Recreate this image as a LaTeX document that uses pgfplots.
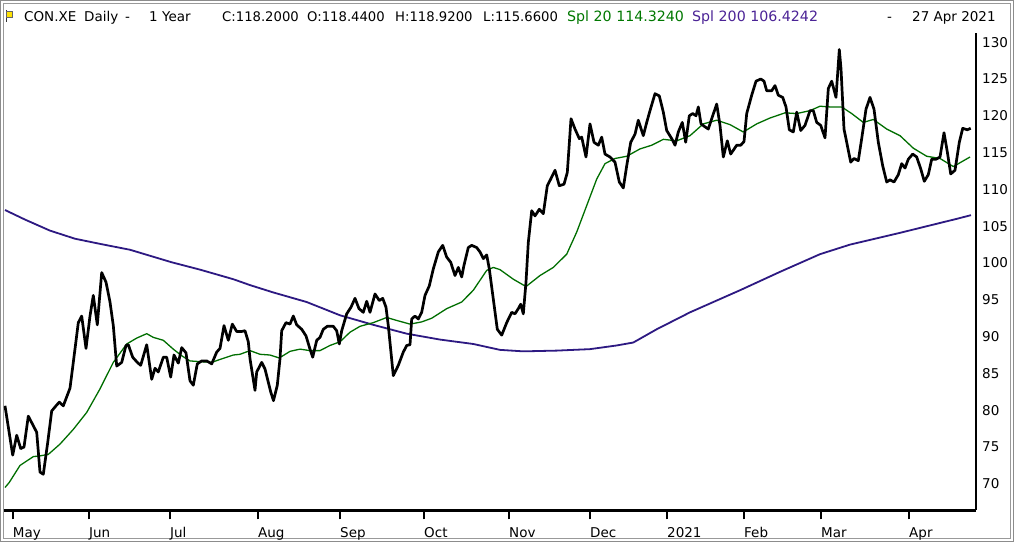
\documentclass[border=0pt]{standalone}
\usepackage{pgfplots}
\pgfplotsset{compat=1.18}
\usepackage{fontspec}
\setmainfont{DejaVu Sans}
\definecolor{smagreen}{RGB}{0,110,0}
\definecolor{smapurple}{RGB}{45,25,130}
\definecolor{hdrgreen}{RGB}{0,120,0}
\definecolor{hdrpurple}{RGB}{75,35,150}
\newcommand{\hf}{\fontsize{13.5}{16}\selectfont}
\newcommand{\hs}{\fontsize{13.2}{16}\selectfont}
\newcommand{\hl}{\fontsize{14.2}{16}\selectfont}

\pgfplotstableread{
x y
5 80.6
12.7 73.9
16.7 76.6
20.7 74.8
24 75.0
28.3 79.2
33.3 77.9
36.7 77.0
40 71.6
43.3 71.3
47.7 75.6
51.7 79.9
56 80.6
59.3 81.1
63.3 80.6
70 83.0
73.3 86.5
78.3 91.9
81.7 92.8
86 88.4
90 92.8
93.3 95.6
97.3 91.6
101.7 98.7
106 97.4
110 94.7
113.3 91.5
116.7 86.0
121.7 86.5
126 88.8
128.3 88.9
132.7 87.2
137.3 86.5
140.7 86.1
146.7 88.9
151.7 84.2
155 85.7
158.3 85.2
163.3 87.2
166.7 87.2
170.7 84.5
174 87.5
178.3 86.4
181.7 88.5
186 87.8
190 84.0
193.3 83.4
197.3 86.3
201.7 86.7
206.7 86.7
211.7 86.3
216.7 87.9
220 88.4
224 91.5
228.3 89.5
232.3 91.7
236.7 90.7
241.7 90.7
245 90.8
248.3 89.3
250 87.0
255 82.7
256.7 85.2
261.7 86.5
265 85.6
270.7 82.5
273.5 81.3
277.3 83.4
280 87.0
281.7 90.8
286 91.9
290 91.7
293.3 92.8
296.7 91.6
301.7 91.0
306 90.1
310 88.3
312.7 87.2
316.7 89.5
320 89.9
323.3 91.0
327.3 91.4
333.3 91.4
336.7 90.8
339.3 89.0
341.7 90.8
346.7 93.1
351 94.0
355 95.2
359 93.8
363.3 93.3
366.7 94.8
370 93.3
375 95.8
379.3 94.9
382.7 95.2
386 94.0
388.3 91.5
393.3 84.7
398.3 86.1
403.3 87.9
406.7 88.8
410 88.9
411.7 92.4
415 92.8
418.3 92.4
421.7 93.3
425 95.6
429.3 96.9
433.3 99.2
438.3 101.5
442.7 102.4
446.7 100.8
450.7 100.1
455 98.3
458.3 99.4
461.7 98.1
464 99.7
468.3 102.1
471.7 102.4
476.7 102.1
480 101.5
483.3 100.6
486.7 101.1
489.3 99.2
493.3 95.1
497.3 91.0
501.7 90.2
506.7 91.9
511.7 93.3
515 93.1
518.3 93.8
520.7 94.4
523.3 93.1
526 97.4
528.3 102.8
531.7 107.1
535 106.4
539.3 107.3
543.3 106.7
547.3 110.5
550.7 111.4
555 112.6
559.3 110.5
564 110.7
567.3 112.3
571 119.6
575 118.2
579.3 116.9
581.7 117.1
586 114.4
590 118.9
594 116.4
598.3 116.0
601.7 117.1
605 114.8
610 114.4
615 113.7
619.3 111.0
623.3 110.2
626.7 113.2
630.7 116.4
635 117.5
638.3 119.4
643.3 117.3
646.7 119.1
650 120.7
655 123.0
659.3 122.7
663.3 120.5
666.7 118.0
671.7 116.9
675 116.0
678.3 117.8
682.3 119.1
685.7 116.4
689.3 120.0
692.7 120.3
696 120.0
698.3 121.2
701 118.9
705 118.5
708.3 118.2
711.7 119.6
716.7 121.6
720 118.7
723.3 114.4
727.3 116.6
730.7 114.8
736.7 116.0
740.7 116.0
744 116.5
746.7 120.3
751.7 122.8
756 124.7
760.7 125.0
764 124.7
766.7 123.4
771.7 123.4
775 124.1
778.3 122.8
782.7 122.5
786 121.2
789.3 118.1
793.3 117.8
796.7 120.5
800.7 118.0
805 118.7
810 120.7
813.3 120.7
816.7 119.1
820.7 118.7
825 117.0
828.3 123.7
831.7 124.7
836 122.5
839.3 129.0
841 126.4
844 118.2
847.3 116.0
850.7 113.7
854 114.2
858.3 113.9
861.7 116.9
866 120.9
870 122.5
874 120.9
878.3 116.4
882.7 113.2
886.7 111.0
890 111.3
894 111.0
898.3 112.0
901.7 113.5
905 112.9
908.3 114.1
912.7 114.8
916.7 114.4
920.7 112.8
924.3 111.1
928.3 112.0
931.7 114.1
936 114.1
940 114.4
944 117.7
947.3 115.1
950.7 112.1
955 112.6
959.3 116.4
962.7 118.3
967.3 118.1
970.7 118.3
}\price

\pgfplotstableread{
x y
5 69.5
9.3 70.2
20 72.5
33.3 73.7
40 73.8
48.3 74.0
60 75.4
73.3 77.4
86.7 79.7
100 82.9
113.3 86.5
126.7 89.0
136.7 89.8
146.7 90.4
153.3 89.9
163.3 89.5
173.3 88.3
181.7 87.4
190 86.7
200 86.6
211.7 86.5
220 86.9
233.3 87.5
240 87.6
250 88.1
260 87.6
270 87.5
279.3 87.1
290 88.0
300 88.3
310 88.1
320 88.1
330 88.8
340 89.3
350 90.6
360 91.4
373.3 91.9
386.7 92.6
396.7 92.2
410 91.7
421.7 92.0
431.7 92.5
446.7 93.8
461.7 94.7
473.3 96.3
486.7 99.0
493.3 99.4
500 99.1
513.3 97.8
526 96.8
540 98.3
553.3 99.4
566.7 101.2
576.7 104.2
586.7 107.8
596.7 111.4
605 113.5
615 114.2
626.7 114.5
640 115.5
651.7 116.0
663.3 116.8
676.7 116.6
690 117.3
703.3 118.9
716.7 119.4
730 118.8
743.3 117.8
756.7 118.9
770 119.7
785 120.4
796.7 120.3
810 120.7
820 121.3
830 121.2
841.7 121.2
851.7 120.3
863.3 119.1
873.3 119.5
886.7 118.2
900 117.3
913.3 115.6
926.7 114.5
940 114.2
953.3 113.1
970 114.4
}\smatwenty

\pgfplotstableread{
x y
5 107.2
25 105.9
50 104.4
75 103.3
100 102.6
130 101.8
171.7 100.1
200 99.1
233.3 97.8
250 97.0
273.3 96.0
306.7 94.7
340 92.9
373.3 91.6
406.7 90.4
440 89.6
473.3 89.0
500 88.2
523.3 88.0
556.7 88.1
590 88.3
616.7 88.8
633.3 89.2
656.7 91.0
690 93.3
723.3 95.3
740 96.3
780 98.8
820 101.2
850 102.5
900 104.1
956.7 106.0
971 106.5
}\smatwohundred

\begin{document}
\begin{tikzpicture}[x=1pt,y=1pt]
\useasboundingbox (0,0) rectangle (1014,542);
\fill[white] (0,0) rectangle (1014,542);
\draw[black!45, line width=1.2pt] (0.8,0.8) rectangle (1013.2,541.2);
\draw[black!40, line width=1pt] (3.8,3.8) rectangle (1010.2,538.2);
% flag
\draw[black!80, line width=0.9pt] (6,520) -- (6,532);
\fill[yellow!85!orange] (6.5,525) rectangle (12,531);
\draw[black!60, line width=0.4pt] (6.5,525) rectangle (12,531);
% header
\node[anchor=base west, inner sep=0pt] at (24,520.5) {\hf CON.XE};
\node[anchor=base west, inner sep=0pt] at (84,520.5) {\hf Daily};
\node[anchor=base west, inner sep=0pt] at (125,520.5) {\hf -};
\node[anchor=base west, inner sep=0pt] at (149,520.5) {\hf 1 Year};
\node[anchor=base west, inner sep=0pt] at (222,520.5) {\hs C:118.2000};
\node[anchor=base west, inner sep=0pt] at (307,520.5) {\hs O:118.4400};
\node[anchor=base west, inner sep=0pt] at (395,520.5) {\hs H:118.9200};
\node[anchor=base west, inner sep=0pt] at (483,520.5) {\hs L:115.6600};
\node[anchor=base west, inner sep=0pt, text=hdrgreen] at (567,520.5) {\hl Spl 20 114.3240};
\node[anchor=base west, inner sep=0pt, text=hdrpurple] at (692,520.5) {\hl Spl 200 106.4242};
\node[anchor=base west, inner sep=0pt] at (887,520.5) {\hf -};
\node[anchor=base west, inner sep=0pt] at (912,520.5) {\hf 27 Apr 2021};
\begin{axis}[
  at={(4,43)}, anchor=south west,
  scale only axis, width=972pt, height=477pt,
  xmin=4, xmax=976, ymin=66.4, ymax=131.2,
  axis x line=bottom, axis y line=right,
  axis line style={-},
  x axis line style={line width=2.3pt},
  y axis line style={line width=2pt},
  xtick={12.7,89,170,258,340,424,509,590,667,744,821,909},
  xticklabels={May,Jun,Jul,Aug,Sep,Oct,Nov,Dec,2021,Feb,Mar,Apr},
  ytick={70,75,...,130},
  tick align=outside,
  major tick length=9pt,
  x tick style={line width=2pt, black},
  y tick style={draw=none},
  /pgf/number format/assume math mode=true,
  ticklabel style={font=\hf},
  xticklabel style={anchor=base west, inner sep=0pt, yshift=-18pt},
  yticklabel style={anchor=west, inner sep=0pt, xshift=-3pt},
  clip=true,
]
\addplot[smapurple, line width=1.8pt, line join=round] table[x=x,y=y] {\smatwohundred};
\addplot[smagreen, line width=1.3pt, line join=round] table[x=x,y=y] {\smatwenty};
\addplot[black, line width=2.7pt, line join=round] table[x=x,y=y] {\price};
\end{axis}
\end{tikzpicture}
\end{document}
